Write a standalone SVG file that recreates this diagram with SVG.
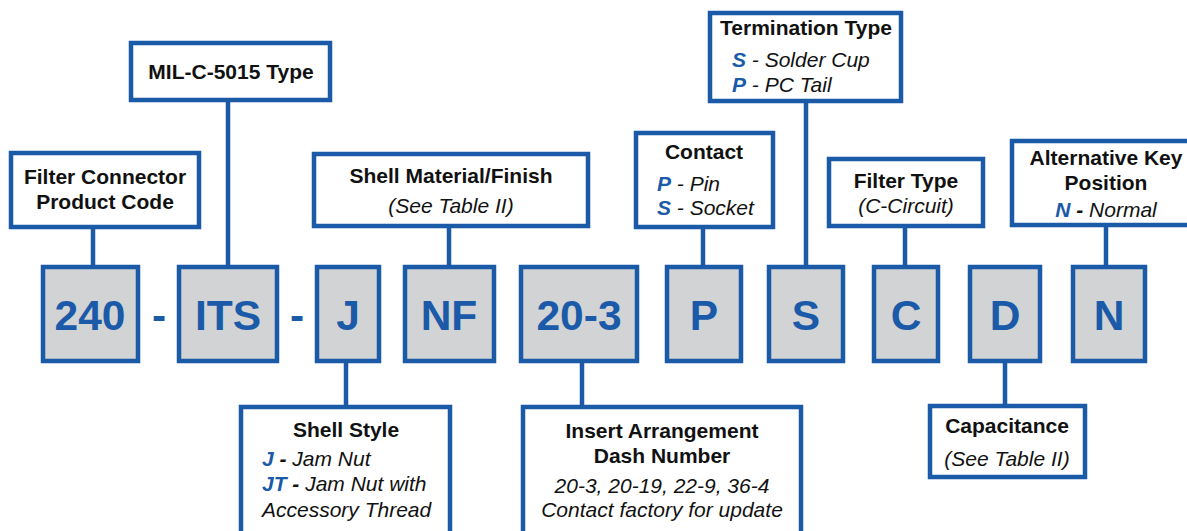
<svg xmlns="http://www.w3.org/2000/svg" width="1187" height="531" viewBox="0 0 1187 531">
<style>
.bx{fill:#ffffff;stroke:#1b5aa7;stroke-width:4.5}
.code{fill:#d1d3d4;stroke:#1b5aa7;stroke-width:4.5}
.cn{stroke:#1b5aa7;stroke-width:4.5;fill:none}
.big{font-family:"Liberation Sans",Arial,sans-serif;font-weight:bold;font-size:42.5px;fill:#1a5aa8;text-anchor:middle}
.t{font-family:"Liberation Sans",Arial,sans-serif;font-weight:bold;font-size:21px;fill:#111;text-anchor:middle}
.i{font-family:"Liberation Sans",Arial,sans-serif;font-style:italic;font-size:21px;fill:#111}
.im{text-anchor:middle}
.k{font-weight:bold;fill:#1a5aa8}
.b{font-weight:bold}
</style>
<rect width="1187" height="531" fill="#ffffff"/>
<g id="connectors">
<line class="cn" x1="93" y1="229" x2="93" y2="267"/>
<line class="cn" x1="228" y1="102" x2="228" y2="267"/>
<line class="cn" x1="449" y1="228" x2="449" y2="267"/>
<line class="cn" x1="703" y1="229" x2="703" y2="267"/>
<line class="cn" x1="806" y1="102" x2="806" y2="267"/>
<line class="cn" x1="905" y1="228" x2="905" y2="267"/>
<line class="cn" x1="1106" y1="227" x2="1106" y2="267"/>
<line class="cn" x1="346" y1="361" x2="346" y2="407"/>
<line class="cn" x1="582" y1="361" x2="582" y2="407"/>
<line class="cn" x1="1005" y1="361" x2="1005" y2="406"/>
</g>
<g id="code-240"><rect class="code" x="43" y="267" width="95" height="94"/><text class="big" x="90" y="330">240</text></g>
<g id="dash1"><text class="big" x="159" y="330">-</text></g>
<g id="code-ITS"><rect class="code" x="179" y="267" width="98" height="94"/><text class="big" x="228" y="330">ITS</text></g>
<g id="dash2"><text class="big" x="297" y="330">-</text></g>
<g id="code-J"><rect class="code" x="317" y="267" width="62" height="94"/><text class="big" x="348" y="330">J</text></g>
<g id="code-NF"><rect class="code" x="405" y="267" width="89" height="94"/><text class="big" x="449" y="330">NF</text></g>
<g id="code-20-3"><rect class="code" x="521" y="267" width="116" height="94"/><text class="big" x="579" y="330">20-3</text></g>
<g id="code-P"><rect class="code" x="667" y="267" width="74" height="94"/><text class="big" x="704" y="330">P</text></g>
<g id="code-S"><rect class="code" x="769" y="267" width="74" height="94"/><text class="big" x="806" y="330">S</text></g>
<g id="code-C"><rect class="code" x="874" y="267" width="64" height="94"/><text class="big" x="906" y="330">C</text></g>
<g id="code-D"><rect class="code" x="970" y="267" width="70" height="94"/><text class="big" x="1005" y="330">D</text></g>
<g id="code-N"><rect class="code" x="1073" y="267" width="72" height="94"/><text class="big" x="1109" y="330">N</text></g>

<g id="product-code"><rect class="bx" x="11" y="153" width="188" height="74"/>
<text class="t" x="105" y="184">Filter Connector</text><text class="t" x="105" y="209">Product Code</text></g>
<g id="mil-type"><rect class="bx" x="131" y="43" width="199" height="57"/>
<text class="t" x="231" y="79">MIL-C-5015 Type</text></g>
<g id="shell-material"><rect class="bx" x="314" y="154" width="274" height="72"/>
<text class="t" x="451" y="183">Shell Material/Finish</text><text class="i im" x="451" y="213">(See Table II)</text></g>
<g id="contact"><rect class="bx" x="636" y="133" width="137" height="94"/>
<text class="t" x="704" y="159">Contact</text>
<text class="i" x="657" y="191"><tspan class="k">P</tspan> - Pin</text>
<text class="i" x="657" y="215"><tspan class="k">S</tspan> - Socket</text></g>
<g id="termination"><rect class="bx" x="710" y="13" width="191" height="88"/>
<text class="t" x="806" y="35">Termination Type</text>
<text class="i" x="732" y="67"><tspan class="k">S</tspan> - Solder Cup</text>
<text class="i" x="732" y="92"><tspan class="k">P</tspan> - PC Tail</text></g>
<g id="filter-type"><rect class="bx" x="829" y="159" width="154" height="67"/>
<text class="t" x="906" y="188">Filter Type</text><text class="i im" x="906" y="213">(C-Circuit)</text></g>
<g id="alt-key"><rect class="bx" x="1012" y="141" width="190" height="84"/>
<text class="t" x="1106" y="165">Alternative Key</text><text class="t" x="1106" y="190">Position</text>
<text class="i im" x="1106" y="217"><tspan class="k">N</tspan><tspan class="b"> - </tspan>Normal</text></g>
<g id="shell-style"><rect class="bx" x="241" y="407" width="209" height="140"/>
<text class="t" x="346" y="437">Shell Style</text>
<text class="i" x="262" y="466"><tspan class="k">J</tspan><tspan class="b"> - </tspan>Jam Nut</text>
<text class="i" x="262" y="491"><tspan class="k">JT</tspan><tspan class="b"> - </tspan>Jam Nut with</text>
<text class="i" x="262" y="517">Accessory Thread</text></g>
<g id="insert-arrangement"><rect class="bx" x="523" y="407" width="278" height="140"/>
<text class="t" x="662" y="438">Insert Arrangement</text><text class="t" x="662" y="463">Dash Number</text>
<text class="i im" x="662" y="493">20-3, 20-19, 22-9, 36-4</text>
<text class="i im" x="662" y="517">Contact factory for update</text></g>
<g id="capacitance"><rect class="bx" x="930" y="406" width="155" height="71"/>
<text class="t" x="1007" y="433">Capacitance</text><text class="i im" x="1007" y="466">(See Table II)</text></g>
</svg>
